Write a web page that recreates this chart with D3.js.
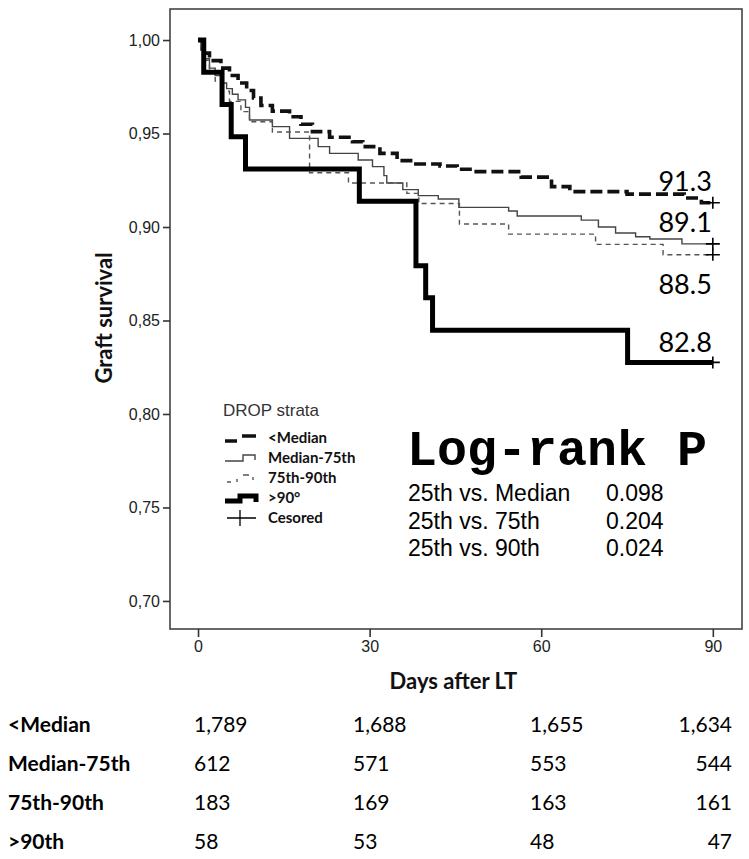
<!DOCTYPE html>
<html><head><meta charset="utf-8">
<script src="https://cdn.jsdelivr.net/npm/d3@7"></script>
<style>body{margin:0;background:#fff}</style>
</head><body>
<svg id="c" width="749" height="859"></svg>
<script>
// ---------------- DATA ----------------
const groups = ["<Median", "Median-75th", "75th-90th", ">90th"];
const legendLabels = ["<Median", "Median-75th", "75th-90th", ">90°", "Cesored"];

const medianDays = [0, 1, 2, 4, 5.5, 7, 8.5, 9.7, 11, 13, 16, 18, 20, 23, 27, 28.8, 31.8, 34.8, 37.6, 42.3, 45.3, 48, 56.5, 61.8, 65, 75, 85, 88, 90];
const medianSurv = [1, 0.993, 0.989, 0.985, 0.981, 0.977, 0.973, 0.969, 0.965, 0.962, 0.959, 0.955, 0.951, 0.948, 0.9456, 0.943, 0.9394, 0.9355, 0.9337, 0.9326, 0.9309, 0.9296, 0.9267, 0.9216, 0.9189, 0.9176, 0.9155, 0.913, 0.913];

const m75Days = [0, 0.5, 1, 2, 3, 4, 5, 6, 7, 8.3, 9, 13, 16, 21, 23, 28, 30.5, 32.5, 33, 35.8, 38.5, 42, 45.6, 54.3, 55.8, 67, 70, 73, 76.5, 79, 84.6, 90];
const m75Surv = [1, 0.995, 0.99, 0.985, 0.981, 0.977, 0.974, 0.971, 0.968, 0.964, 0.9572, 0.9537, 0.9474, 0.943, 0.9394, 0.9358, 0.9323, 0.9275, 0.9235, 0.920, 0.9168, 0.915, 0.9105, 0.9086, 0.9059, 0.9037, 0.900, 0.8968, 0.8948, 0.8936, 0.891, 0.891];

const p90Days = [0, 0.5, 1, 2, 3, 4, 5.5, 7.5, 9, 13, 19.5, 26.3, 36.5, 38.6, 45.7, 54.3, 69.5, 81.3, 90];
const p90Surv = [1, 0.9945, 0.9891, 0.9836, 0.9781, 0.9727, 0.9672, 0.9617, 0.9563, 0.9508, 0.9290, 0.9235, 0.9180, 0.9126, 0.9016, 0.8962, 0.8907, 0.8852, 0.8852];

const gt90Days = [0, 1.0, 4.2, 5.8, 8.3, 28.2, 38.1, 39.8, 41.0, 75.1, 90];
const gt90Surv = [1, 0.9828, 0.9655, 0.9483, 0.9310, 0.9138, 0.8793, 0.8621, 0.8448, 0.8276, 0.8276];

const finalLabels = ["91.3", "89.1", "88.5", "82.8"];

const yTicks = [0.70, 0.75, 0.80, 0.85, 0.90, 0.95, 1.00];
const xTicks = [0, 30, 60, 90];

const riskMedian = ["1,789", "1,688", "1,655", "1,634"];
const riskM75 = ["612", "571", "553", "544"];
const riskP90 = ["183", "169", "163", "161"];
const riskGt90 = ["58", "53", "48", "47"];

const logrankTitle = "Log-rank P";
const logrankRows = ["25th vs. Median", "25th vs. 75th", "25th vs. 90th"];
const logrankP = ["0.098", "0.204", "0.024"];

// ---------------- LAYOUT / STYLE ----------------
const svg = d3.select("#c");
const box = {l: 170, t: 9, r: 742, b: 629};
const x = d3.scaleLinear().domain([-4.9, 95.1]).range([box.l, box.r]);
const y = d3.scaleLinear().domain([0.685, 1.0166]).range([box.b, box.t]);

const calibri = "Lato, 'Open Sans', sans-serif";
const arial = "'Liberation Sans', Arial, sans-serif";
const narrow = "'Liberation Sans Narrow', 'Liberation Sans', Arial, sans-serif";

const series = [
  {days: medianDays, surv: medianSurv, color: "#111", width: 3.6, dash: "12,5"},
  {days: m75Days, surv: m75Surv, color: "#444", width: 1.4, dash: null},
  {days: p90Days, surv: p90Surv, color: "#555", width: 1.4, dash: "5,4"},
  {days: gt90Days, surv: gt90Surv, color: "#000", width: 5, dash: null}
];
const labelOffsets = [-12, -12, 39, -10];

// frame
svg.append("rect").attr("x", box.l).attr("y", box.t)
  .attr("width", box.r - box.l).attr("height", box.b - box.t)
  .attr("fill", "none").attr("stroke", "#444").attr("stroke-width", 1.6);

// axes
const yAxis = svg.append("g").attr("transform", `translate(${box.l},0)`)
  .call(d3.axisLeft(y).tickValues(yTicks).tickSize(7).tickPadding(3)
    .tickFormat(d => d3.format(".2f")(d).replace(".", ",")));
const xAxis = svg.append("g").attr("transform", `translate(0,${box.b})`)
  .call(d3.axisBottom(x).tickValues(xTicks).tickSize(8).tickPadding(4));
[yAxis, xAxis].forEach(g => {
  g.select(".domain").remove();
  g.selectAll("line").attr("stroke", "#333").attr("stroke-width", 1.6);
  g.selectAll("text").attr("font-family", narrow).attr("font-size", 16).attr("fill", "#222");
});

// axis titles
svg.append("text").attr("x", x(45) - 2).attr("y", 689).attr("text-anchor", "middle")
  .attr("font-family", calibri).attr("font-weight", "bold").attr("font-size", 22)
  .attr("fill", "#111").text("Days after LT");
svg.append("text").attr("transform", "translate(112,318) rotate(-90)").attr("text-anchor", "middle")
  .attr("font-family", calibri).attr("font-weight", "bold").attr("font-size", 22)
  .attr("fill", "#111").text("Graft survival");

// curves
const line = d3.line().curve(d3.curveStepAfter).x(d => x(d[0])).y(d => y(d[1]));
series.forEach((s, i) => {
  const pts = s.days.map((d, k) => [d, s.surv[k]]);
  svg.append("path").datum(pts).attr("d", line)
    .attr("fill", "none").attr("stroke", s.color).attr("stroke-width", s.width)
    .attr("stroke-dasharray", s.dash).attr("stroke-linejoin", "miter");
});
// censor marks + end labels
series.forEach((s, i) => {
  const dx = x(s.days[s.days.length - 1]), dy = y(s.surv[s.surv.length - 1]);
  svg.append("path").attr("d", `M${dx - 7},${dy}H${dx + 7}M${dx},${dy - 6}V${dy + 6}`)
    .attr("stroke", "#000").attr("stroke-width", 1.6);
  svg.append("text").attr("x", dx - 1).attr("y", dy + labelOffsets[i])
    .attr("text-anchor", "end").attr("font-family", calibri).attr("font-size", 27)
    .attr("fill", "#000").text(finalLabels[i]);
});

// legend
const lg = svg.append("g").attr("transform", "translate(223,0)");
lg.append("text").attr("x", 0).attr("y", 416).attr("font-family", arial).attr("font-size", 17)
  .attr("fill", "#333").text("DROP strata");
const legRowY = [438, 458, 478, 498, 518];
const glyphs = [
  {d: "M2,3H14M19,-2H33", w: 3.6, c: "#111"},
  {d: "M2,3H20V-3H32V2", w: 1.4, c: "#444"},
  {d: "M4,4H8M14,4V1M20,-3H26M30,-1V2", w: 1.4, c: "#555"},
  {d: "M2,3H17V-2H33V4", w: 5, c: "#000"},
  {d: "M4,0H33M17,-8V8", w: 1.3, c: "#000"}
];
legendLabels.forEach((lab, i) => {
  const gy = legRowY[i];
  lg.append("path").attr("d", glyphs[i].d).attr("transform", `translate(0,${gy})`)
    .attr("fill", "none").attr("stroke", glyphs[i].c).attr("stroke-width", glyphs[i].w);
  lg.append("text").attr("x", 45).attr("y", gy).attr("dy", "0.35em")
    .attr("font-family", calibri).attr("font-weight", "bold").attr("font-size", 15)
    .attr("fill", "#111").text(lab);
});

// log-rank block
svg.append("text").attr("x", 407).attr("y", 465).attr("font-family", "'Liberation Mono', 'Courier New', monospace")
  .attr("font-weight", "bold").attr("font-size", 50).attr("fill", "#000").text(logrankTitle);
logrankRows.forEach((r, i) => {
  const ry = 501 + i * 27.5;
  svg.append("text").attr("x", 408).attr("y", ry).attr("font-family", arial).attr("font-size", 23)
    .attr("fill", "#000").text(r);
  svg.append("text").attr("x", 606).attr("y", ry).attr("font-family", arial).attr("font-size", 23)
    .attr("fill", "#000").text(logrankP[i]);
});

// number-at-risk table
const riskRows = [riskMedian, riskM75, riskP90, riskGt90];
const rowY = [725, 764, 803, 842];
const colX = [194, 353, 530, 732];
const colAnchor = ["start", "start", "start", "end"];
riskRows.forEach((row, i) => {
  svg.append("text").attr("x", 8).attr("y", rowY[i]).attr("dy", "0.35em")
    .attr("font-family", calibri).attr("font-weight", "bold").attr("font-size", 21)
    .attr("fill", "#000").text(groups[i]);
  row.forEach((v, j) => {
    svg.append("text").attr("x", colX[j]).attr("y", rowY[i]).attr("dy", "0.35em")
      .attr("text-anchor", colAnchor[j]).attr("font-family", calibri).attr("font-size", 21)
      .attr("fill", "#000").text(v);
  });
});
</script>
</body></html>
